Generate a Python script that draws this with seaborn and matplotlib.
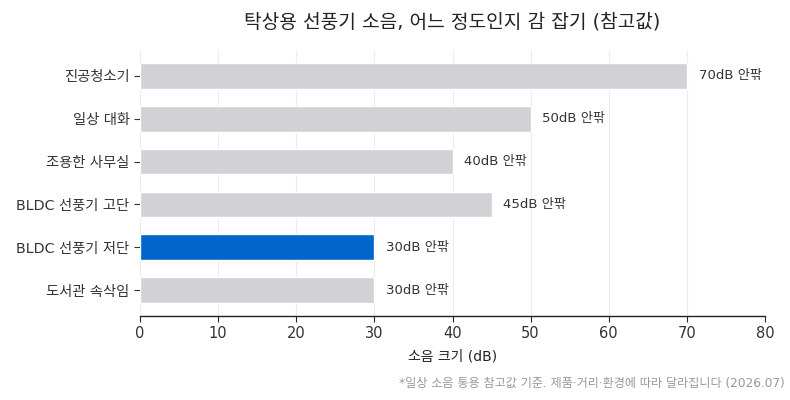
import matplotlib
matplotlib.use("Agg")
import matplotlib.pyplot as plt
import seaborn as sns
import pandas as pd

categories = ["진공청소기", "일상 대화", "조용한 사무실", "BLDC 선풍기 고단", "BLDC 선풍기 저단", "도서관 속삭임"]
values = [70, 50, 40, 45, 30, 30]
value_labels = ["70dB 안팎", "50dB 안팎", "40dB 안팎", "45dB 안팎", "30dB 안팎", "30dB 안팎"]
highlight = "BLDC 선풍기 저단"
x_ticks = [0, 10, 20, 30, 40, 50, 60, 70, 80]

sns.set_theme(style="white")
plt.rcParams['font.family'] = ['DejaVu Sans', 'Noto Sans CJK KR']

df = pd.DataFrame({"cat": categories, "val": values})
palette = {c: ("#0066cc" if c == highlight else "#d1d1d6") for c in categories}

fig = plt.figure(figsize=(7.9, 4.0), dpi=100)
ax = fig.add_axes([140/790, 1-316/400, (765-140)/790, (316-50)/400])
sns.barplot(data=df, x="val", y="cat", hue="cat", palette=palette, order=categories,
            hue_order=categories, width=0.6, legend=False, ax=ax, saturation=1)

for i, (v, lab) in enumerate(zip(values, value_labels)):
    ax.text(v + 1.5, i, lab, va="center", ha="left", fontsize=9.5, color="#333333")

ax.set_xlim(0, 80)
ax.set_ylim(5.6, -0.6)
ax.set_xticks(x_ticks)
ax.set_xticklabels([str(t) for t in x_ticks], fontsize=10.5, color="#333333")
ax.tick_params(axis="y", labelsize=10.3, colors="#333333", length=4, width=0.8, left=True)
ax.tick_params(axis="x", length=4, width=0.8, bottom=True)
ax.grid(axis="x", color="#ececec", linewidth=0.8)
ax.set_axisbelow(True)
for s in ["top", "right", "left"]:
    ax.spines[s].set_visible(False)
ax.spines["bottom"].set_color("#222222")
ax.spines["bottom"].set_linewidth(1.0)
ax.set_ylabel("")
ax.set_xlabel("소음 크기 (dB)", fontsize=10, color="#222222", labelpad=6)

fig.text((140+765)/2/790, 1-22/400, "탁상용 선풍기 소음, 어느 정도인지 감 잡기 (참고값)",
         ha="center", va="center", fontsize=13.8, color="#222222")
fig.text(785/790, 1-383/400, "*일상 소음 통용 참고값 기준. 제품·거리·환경에 따라 달라집니다 (2026.07)",
         ha="right", va="center", fontsize=8.7, color="#999999")

fig.savefig("out.png", dpi=100)
